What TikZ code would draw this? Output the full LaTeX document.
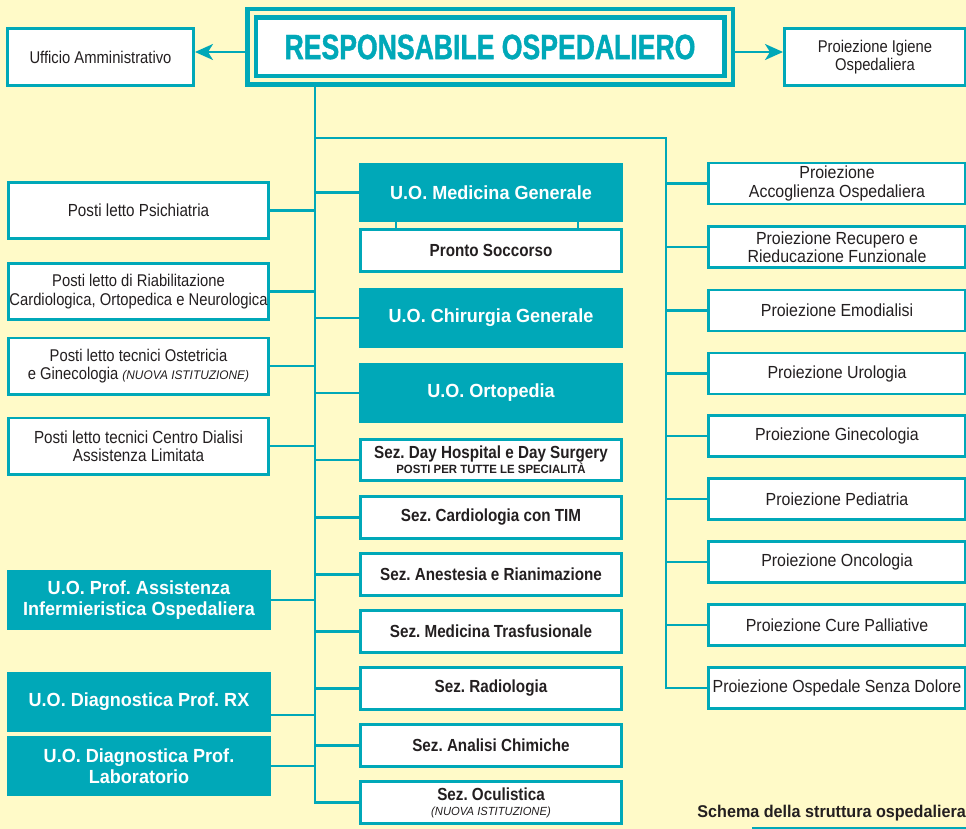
\documentclass[tikz,border=0pt]{standalone}
\usepackage{fontspec}
\setmainfont{Liberation Sans}[FakeStretch=0.87]
\newfontfamily\widefont{Liberation Sans}[FakeStretch=0.95]
\newfontfamily\rightfont{Liberation Sans}[FakeStretch=0.91]
\newfontfamily\titlefont{Liberation Sans}[FakeStretch=0.76,FakeBold=1.2]
\usetikzlibrary{arrows.meta}
\definecolor{tealc}{RGB}{0,168,184}
\definecolor{bgc}{RGB}{255,250,200}
\definecolor{txt}{RGB}{35,31,32}
\newcommand{\smallnote}[2]{{\widefont\itshape\fontsize{#1}{13}\selectfont #2}}
\frenchspacing
\begin{document}
\frenchspacing
\begin{tikzpicture}[x=1pt,y=-1pt,
  wbox/.style={draw=tealc, line width=2.8pt, fill=white, align=center, inner sep=0pt, text=txt,
     font=\fontsize{17}{18.3}\selectfont},
  lbox/.style={wbox, minimum width=260.2pt, minimum height=56.2pt},
  rbox/.style={wbox, minimum width=257.2pt, minimum height=41pt, font=\rightfont\fontsize{17.5}{18.3}\selectfont},
  cbox/.style={wbox, minimum width=261.2pt, minimum height=42.2pt, font=\bfseries\fontsize{17.5}{18}\selectfont},
  tbox/.style={fill=tealc, text=white, align=center, inner sep=0pt, minimum height=60pt,
     font=\widefont\bfseries\fontsize{19}{21.5}\selectfont},
  ctbox/.style={tbox, minimum width=264pt},
  ltbox/.style={tbox, minimum width=264pt},
  topbox/.style={draw=tealc, line width=4.5pt, double=bgc, double distance=4pt, fill=white,
     minimum width=477pt, minimum height=67pt, inner sep=0pt, outer sep=6.5pt,
     text=tealc, font=\titlefont\bfseries\fontsize{35}{36}\selectfont},
  conn/.style={draw=tealc, line width=2.3pt},
  arr/.style={conn, -{Stealth[length=18pt,width=16pt,inset=5pt]}}
]
\useasboundingbox (0,0) rectangle (966,829);
\fill[bgc] (0,0) rectangle (966,829);

% top
\node[topbox] (resp) at (490,47) {RESPONSABILE OSPEDALIERO};
\node[wbox, minimum width=186.2pt, minimum height=57.2pt] (uff) at (100.5,57) {Ufficio Amministrativo};
\node[wbox, minimum width=181.2pt, minimum height=57.2pt] (igiene) at (875,57) {Proiezione Igiene\\Ospedaliera};

% left column
\node[lbox, font=\fontsize{17.5}{18.3}\selectfont] (psich) at (138.5,210.5) {Posti letto Psichiatria};
\node[lbox] (riab) at (138.5,291.5) {Posti letto di Riabilitazione\\Cardiologica, Ortopedica e Neurologica};
\node[lbox] (ostet) at (138.5,366) {Posti letto tecnici Ostetricia\\e Ginecologia \smallnote{12.5}{(NUOVA ISTITUZIONE)}};
\node[lbox, font=\fontsize{17.5}{18.3}\selectfont] (dial) at (138.5,446) {Posti letto tecnici Centro Dialisi\\Assistenza Limitata};
\node[ltbox] (assist) at (139,600) {U.O. Prof. Assistenza\\Infermieristica Ospedaliera};
\node[ltbox] (rx) at (139,702) {U.O. Diagnostica Prof. RX};
\node[ltbox] (lab) at (139,766) {U.O. Diagnostica Prof.\\Laboratorio};

% center column
\node[ctbox, minimum height=59pt] (medgen) at (491,192.5) {U.O. Medicina Generale};
\node[cbox] (pronto) at (491,250.5) {Pronto Soccorso};
\node[ctbox] (chir) at (491,318) {U.O. Chirurgia Generale};
\node[ctbox] (orto) at (491,393) {U.O. Ortopedia};
\node[cbox, minimum height=41.2pt] (dayh) at (491,460) {Sez. Day Hospital e Day Surgery\\[-3pt]{\widefont\fontsize{12}{12}\selectfont POSTI PER TUTTE LE SPECIALITÀ}};
\node[cbox] (cardio) at (491,517.5) {Sez. Cardiologia con TIM};
\node[cbox] (anest) at (491,574.5) {Sez. Anestesia e Rianimazione};
\node[cbox] (trasf) at (491,631.5) {Sez. Medicina Trasfusionale};
\node[cbox] (radio) at (491,688.5) {Sez. Radiologia};
\node[cbox] (analisi) at (491,745.5) {Sez. Analisi Chimiche};
\node[cbox] (ocul) at (491,802.5) {Sez. Oculistica\\[-3pt]{\mdseries\smallnote{11.8}{(NUOVA ISTITUZIONE)}}};

% right column
\node[rbox] (accog) at (837,183.5) {Proiezione\\Accoglienza Ospedaliera};
\node[rbox] (recup) at (837,247) {Proiezione Recupero e\\Rieducazione Funzionale};
\node[rbox] (emod) at (837,310.5) {Proiezione Emodialisi};
\node[rbox] (urol) at (837,373.5) {Proiezione Urologia};
\node[rbox] (ginec) at (837,436) {Proiezione Ginecologia};
\node[rbox] (pedi) at (837,499) {Proiezione Pediatria};
\node[rbox] (onco) at (837,562) {Proiezione Oncologia};
\node[rbox] (cure) at (837,625) {Proiezione Cure Palliative};
\node[rbox] (dolore) at (837,688) {Proiezione Ospedale Senza Dolore};

% caption
\node[anchor=east, inner sep=0pt, text=txt, font=\widefont\bfseries\fontsize{17}{18}\selectfont] (cap) at (966,813) {Schema della struttura ospedaliera};
\coordinate (barL) at (752,828);
\coordinate (barR) at (966,828);
\draw[tealc, line width=3pt] (barL) -- (barR);

% trunk coordinates
\coordinate (trk) at (315,0);
\coordinate (rtk) at (666,138);

% arrows
\draw[arr] ([yshift=-5pt]resp.west) -- ([yshift=-5pt]resp.west -| uff.east);
\draw[arr] ([yshift=-5pt]resp.east) -- ([yshift=-5pt]resp.east -| igiene.west);

% main trunk
\draw[conn] (resp.south -| trk) -- (ocul.west -| trk) -- (ocul.west);
\draw[conn] (trk |- rtk) -- (rtk) -- (dolore.west -| rtk) -- (dolore.west);

% left branches
\foreach \n in {psich,riab,ostet,dial,assist,lab}
  \draw[conn] (\n.east) -- (\n.east -| trk);
\draw[conn] ([yshift=-13pt]rx.east) -- ([yshift=-13pt]rx.east -| trk);

% center branches
\foreach \n in {medgen,chir,orto,dayh,cardio,anest,trasf,radio,analisi}
  \draw[conn] (\n.west -| trk) -- (\n.west);
\draw[conn] ([xshift=-95pt]medgen.south) -- ([xshift=-95pt]pronto.north);
\draw[conn] ([xshift=87pt]medgen.south) -- ([xshift=87pt]pronto.north);

% right branches
\foreach \n in {accog,recup,emod,urol,ginec,pedi,onco,cure}
  \draw[conn] (\n.west -| rtk) -- (\n.west);
\end{tikzpicture}
\end{document}
